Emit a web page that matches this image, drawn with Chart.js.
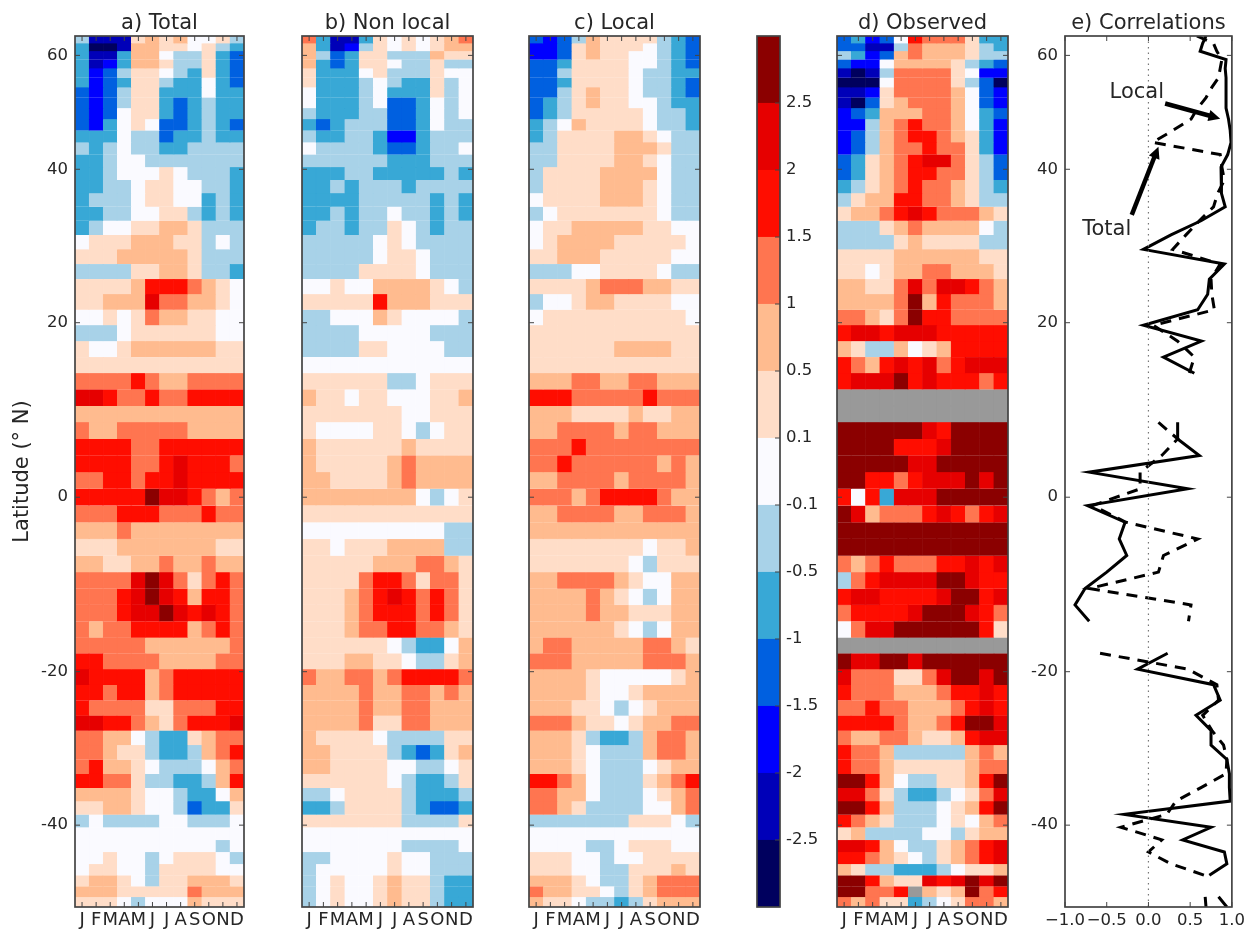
<!DOCTYPE html>
<html>
<head>
<meta charset="UTF-8">
<title>Correlations</title>
<style>
    body { margin: 0; background: #fff; }
    canvas { position: absolute; top: 0; }
</style>
<script src="https://cdn.jsdelivr.net/npm/chart.js"></script>
</head>
<body>
<canvas id="cTotal" style="left:0px" width="248" height="929"></canvas>
<canvas id="cNonLocal" style="left:290px" width="187" height="929"></canvas>
<canvas id="cLocal" style="left:517px" width="187" height="929"></canvas>
<canvas id="cBar" style="left:750px" width="80" height="929"></canvas>
<canvas id="cObserved" style="left:825px" width="187" height="929"></canvas>
<canvas id="cCorr" style="left:1020px" width="229" height="929"></canvas>

<script>
var months = ['J', 'F', 'M', 'A', 'M', 'J', 'J', 'A', 'S', 'O', 'N', 'D']
var latTicks = [60, 40, 20, 0, -20, -40]

// edges of the latitude rows, top to bottom (the correlations are plotted on these too)
var latEdges = [64.69, 62.81, 60.94, 59.06, 57.19, 55.31, 53.44, 51.56, 49.69, 47.81, 45.94, 44.06, 42.19, 40.31, 38.44, 36.56,
    34.69, 32.81, 30.94, 29.06, 27.19, 25.31, 23.44, 21.56, 19.69, 17.81, 15.94, 14.06, 12.19, 10.31, 8.44, 6.56, 4.69, 2.81, 0.94,
    -0.94, -2.81, -4.69, -6.56, -8.44, -10.31, -12.19, -14.06, -15.94, -17.81, -19.69, -21.56, -23.44, -25.31, -27.19, -29.06,
    -30.94, -32.81, -34.69, -36.56, -38.44, -40.31, -42.19, -44.06, -45.94, -47.81, -49.69, -51.56, -53.44]

// colour bar
var barLabels = ['-2.5', '-2', '-1.5', '-1', '-0.5', '-0.1', '0.1', '0.5', '1', '1.5', '2', '2.5']
var binColours = ['#00005e', '#0000b8', '#0000ff', '#0060e0', '#38a8d6', '#a8d2e8', '#fafaff', '#ffddc8', '#ffbb8f', '#ff7550', '#ff0d00', '#e60000', '#8b0000']
var missingColour = '#999999'

// cell values are colour bar bins: 0 is -0.1..0.1, 1 is 0.1..0.5, -1 is -0.5..-0.1 and so on up to +-6
var totalRows = [
    [-1, -5, -5, -5, 1, 2, 1, 2, 0, 0, 1, -1],
    [-2, -6, -6, -5, 2, 2, 1, 1, 0, 1, -1, -2],
    [-2, -5, -5, -2, 2, 2, 0, -1, -1, 1, -2, -3],
    [-2, -5, -4, -2, 2, 2, 1, -1, -1, 1, -2, -3],
    [-2, -4, -3, -1, 1, 1, 0, -1, -2, 1, -2, -3],
    [-2, -4, -3, -2, 1, 1, -1, -2, -2, 0, -2, -3],
    [-3, -4, -3, -1, 1, 1, -2, -2, -2, 0, -2, -2],
    [-3, -4, -3, -1, 1, 1, -2, -3, -2, -1, -2, -2],
    [-3, -4, -3, 0, 1, 1, -2, -3, -2, -1, -2, -2],
    [-3, -4, -2, 0, 1, 0, -3, -3, -2, -1, -2, -3],
    [-2, -2, -2, 0, -1, -1, -3, -2, -2, -1, -2, -2],
    [-1, -2, -1, 0, -1, -1, -2, -2, -1, -1, -1, -1],
    [-2, -2, -1, 0, 0, -1, -1, -1, -1, -1, -1, -1],
    [-2, -2, -1, 0, 0, 0, 1, 0, -1, -1, -1, -2],
    [-2, -2, -1, -1, 0, 1, 1, 0, 0, -1, -1, -2],
    [-2, -1, -1, -1, 0, 1, 1, 0, 0, -2, -1, -2],
    [-2, -2, -1, -1, 0, 0, 1, 1, -1, -2, -1, -2],
    [-2, -1, 0, 0, 1, 1, 2, 2, 1, -1, -1, -1],
    [0, 1, 1, 1, 2, 2, 2, 1, 1, -1, 0, -1],
    [1, 1, 1, 2, 2, 2, 2, 2, 1, -1, -1, -1],
    [-1, -1, -1, -1, 1, 1, 2, 2, 1, -1, -1, -2],
    [1, 1, 1, 1, 2, 4, 4, 4, 3, 2, 1, 0],
    [1, 1, 2, 2, 2, 5, 3, 3, 2, 2, 1, 0],
    [0, 0, 1, 0, 1, 3, 2, 2, 1, 1, 0, 0],
    [-1, -1, -1, 0, 1, 1, 1, 1, 1, 1, 0, 0],
    [1, 0, 0, 1, 2, 2, 2, 2, 2, 2, 1, 1],
    [1, 1, 1, 1, 1, 1, 1, 1, 1, 1, 1, 1],
    [3, 3, 3, 3, 4, 3, 2, 2, 3, 3, 3, 3],
    [5, 5, 4, 3, 3, 4, 3, 3, 4, 4, 4, 4],
    [2, 2, 2, 2, 2, 2, 2, 2, 2, 2, 2, 2],
    [3, 2, 2, 3, 3, 3, 3, 3, 2, 2, 2, 2],
    [4, 4, 4, 4, 3, 3, 4, 4, 4, 4, 4, 4],
    [4, 4, 4, 4, 3, 3, 4, 5, 4, 4, 4, 3],
    [3, 3, 4, 4, 3, 4, 4, 5, 4, 4, 4, 4],
    [4, 4, 4, 4, 4, 6, 5, 5, 4, 3, 2, 3],
    [3, 3, 3, 4, 4, 4, 3, 3, 3, 4, 3, 3],
    [2, 2, 2, 3, 2, 2, 2, 2, 2, 2, 2, 2],
    [1, 1, 1, 2, 2, 2, 2, 2, 2, 2, 1, 1],
    [2, 2, 1, 1, 2, 2, 3, 2, 2, 3, 2, 2],
    [3, 3, 3, 3, 5, 6, 5, 3, 1, 3, 4, 3],
    [3, 3, 3, 4, 5, 6, 5, 4, 2, 4, 4, 3],
    [3, 3, 3, 4, 5, 5, 6, 5, 4, 5, 4, 3],
    [3, 2, 3, 3, 4, 4, 4, 4, 2, 3, 4, 3],
    [3, 3, 3, 3, 3, 2, 2, 2, 2, 2, 2, 3],
    [4, 4, 3, 3, 3, 3, 2, 2, 2, 2, 3, 3],
    [5, 4, 4, 4, 4, 2, 3, 4, 4, 4, 4, 4],
    [4, 4, 3, 4, 4, 2, 3, 4, 4, 4, 4, 4],
    [4, 3, 3, 3, 3, 1, 1, 3, 3, 3, 4, 4],
    [5, 5, 4, 4, 3, 2, 1, 3, 4, 4, 4, 5],
    [3, 3, 2, 2, 0, -1, -2, -2, 1, 2, 3, 3],
    [3, 3, 2, 1, 1, -1, -2, -2, -1, 2, 3, 4],
    [3, 4, 2, 2, 1, 0, -1, -1, -1, 0, 2, 3],
    [4, 4, 3, 3, 1, -1, -1, -2, -2, -1, 2, 4],
    [2, 2, 2, 2, 1, 0, 0, -1, -2, -2, 0, 2],
    [1, 1, 2, 2, 1, 0, 0, -1, -3, -2, -2, 1],
    [-1, 0, -1, -1, -1, -1, 0, 0, -1, -1, -1, 0],
    [0, 0, 0, 0, 0, 0, 0, 0, 0, 0, 0, 0],
    [0, 0, 0, 0, 0, 0, 0, 0, 0, 0, -1, 0],
    [0, 0, 1, 0, 0, -1, 0, 1, 1, 1, 0, -1],
    [0, 1, 1, 0, 0, -1, 1, 1, 1, 1, 0, 0],
    [1, 2, 2, 1, 0, -1, 1, 1, 2, 2, 2, 1],
    [2, 2, 2, 1, 1, 1, 1, 1, 3, 2, 2, 2],
    [1, 1, 1, 0, -1, 0, 0, 0, 2, 1, 1, 1]
]

var nonLocalRows = [
    [3, -2, -5, -5, -2, 1, 0, 1, 0, 1, 2, 3],
    [2, -2, -5, -4, -1, 1, 0, 1, 0, 1, 2, 2],
    [2, -1, -3, -2, 1, 1, -1, -1, -1, 2, 1, 1],
    [2, -2, -3, -2, 1, 1, 0, -1, -1, 1, -1, -1],
    [1, -2, -2, -2, 0, 1, -1, -1, -1, 1, 0, 0],
    [1, -2, -2, -2, -1, 0, -1, -2, -2, 1, -1, 0],
    [0, -2, -2, -2, -1, 0, -2, -2, -2, 1, -1, 0],
    [0, -2, -2, -2, -1, 0, -3, -3, -2, 0, -1, 0],
    [-1, -2, -2, -2, -1, -1, -3, -3, -2, 0, -1, 0],
    [-2, -3, -2, -1, -1, -1, -3, -3, -2, 0, -1, -1],
    [-1, -2, -2, -1, -1, -2, -4, -4, -2, -1, -1, -1],
    [0, -1, -1, -1, -1, -2, -3, -3, -2, -1, -1, 0],
    [-1, -1, -1, -1, -1, -1, -2, -2, -2, -1, -1, -1],
    [-2, -2, -2, -1, -1, -2, -2, -2, -2, -2, -1, -2],
    [-2, -2, -1, -2, -1, -1, -1, -2, -1, -1, -1, -1],
    [-2, -2, -2, -2, -1, -1, -1, -1, -1, -2, -1, -2],
    [-2, -2, -1, -2, -1, -1, 0, -1, -1, -2, -1, -2],
    [-2, -1, -1, -2, -1, -1, 1, 0, -1, -2, -1, -1],
    [-1, -1, -1, -1, -1, 0, 1, 0, -1, -1, -1, -1],
    [-1, -1, -1, -1, -1, 0, 1, 1, 0, -1, -1, -1],
    [-1, -1, -1, -1, 1, 1, 1, 1, 0, -1, -1, -1],
    [0, 0, 1, 0, 0, 2, 2, 2, 2, 1, 0, -1],
    [1, 1, 1, 1, 1, 4, 2, 2, 2, 1, 1, 1],
    [-1, -1, 0, 0, 0, 2, 1, 0, 0, 0, 0, -1],
    [-1, -1, -1, -1, 0, 0, 0, 0, 0, -1, -1, -1],
    [-1, -1, -1, -1, 1, 1, 0, 0, 0, 0, -1, -1],
    [0, 0, 0, 0, 0, 0, 0, 0, 0, 0, 0, 0],
    [1, 1, 1, 1, 1, 1, -1, -1, 0, 1, 1, 1],
    [2, 1, 1, 0, 1, 1, 0, 0, 0, 1, 1, 2],
    [1, 1, 1, 1, 1, 1, 1, 0, 0, 1, 1, 1],
    [1, 0, 0, 0, 0, 1, 1, 0, -1, 0, 1, 1],
    [2, 1, 1, 1, 1, 1, 1, 2, 1, 1, 1, 1],
    [2, 1, 1, 1, 1, 1, 2, 3, 2, 2, 2, 2],
    [2, 2, 1, 1, 1, 1, 2, 3, 2, 2, 2, 2],
    [2, 2, 2, 2, 2, 2, 2, 2, 0, -1, 0, 1],
    [1, 1, 1, 1, 1, 1, 1, 1, 1, 1, 1, 1],
    [0, 0, 0, 0, 0, 0, 0, 0, 0, 0, -1, -1],
    [1, 1, 0, 1, 1, 1, 2, 2, 2, 2, -1, -1],
    [1, 1, 1, 1, 1, 2, 2, 2, 3, 3, 2, 1],
    [1, 1, 1, 1, 3, 4, 4, 3, 1, 3, 3, 1],
    [1, 1, 1, 2, 3, 4, 5, 4, 3, 4, 3, 1],
    [1, 1, 1, 2, 3, 4, 4, 4, 3, 4, 3, 1],
    [1, 1, 1, 2, 3, 3, 4, 4, 3, 3, 2, 1],
    [1, 1, 1, 1, 1, 1, 0, -1, -2, -2, 0, 2],
    [1, 1, 1, 2, 2, 1, 1, 0, -1, -1, 1, 2],
    [3, 2, 2, 3, 3, 2, 3, 4, 4, 4, 4, 3],
    [2, 2, 2, 2, 3, 2, 2, 3, 3, 2, 3, 2],
    [2, 2, 2, 2, 3, 2, 2, 3, 3, 2, 2, 2],
    [2, 2, 2, 2, 3, 1, 1, 3, 3, 2, 2, 2],
    [2, 1, 1, 1, 1, 0, -1, -1, -1, -1, 1, 1],
    [2, 2, 1, 1, 1, 1, -1, -2, -3, -2, 1, 2],
    [2, 2, 1, 1, 1, 1, 0, 0, -1, -1, 0, 1],
    [1, 1, 1, 1, 1, 1, 0, -1, -2, -2, -1, 1],
    [-1, -1, 0, 1, 1, 1, 1, -1, -2, -2, -2, -1],
    [-2, -2, -1, 1, 1, 1, 1, -1, -2, -3, -3, -2],
    [1, 1, 1, 1, 1, 1, 1, -1, -1, -1, -1, 1],
    [0, 0, 0, 0, 0, 0, 0, 0, 0, 0, 0, 0],
    [0, 0, 0, 0, 0, 0, 0, -1, -1, -1, -1, 0],
    [-1, -1, 0, 0, 0, 0, 1, 0, 0, -1, -1, -1],
    [-1, 0, 0, 0, 0, 0, 1, 0, 0, -1, -1, -1],
    [-1, 0, 1, 0, 0, 1, 2, 1, 1, -1, -2, -2],
    [-1, 0, 1, 0, 0, 1, 2, 1, 1, -1, -2, -2],
    [-1, 0, 1, 0, 0, 1, 2, 1, 1, -1, -2, -2]
]

var localRows = [
    [-3, -4, -3, -1, 2, 1, 1, 1, 1, -1, -2, -3],
    [-4, -4, -3, 1, 2, 1, 1, 1, 0, -1, -2, -3],
    [-4, -4, -3, 1, 2, 1, 1, 0, 0, -1, -2, -3],
    [-3, -3, -2, 1, 1, 1, 1, 0, 0, -1, -2, -3],
    [-3, -3, -1, 1, 1, 1, 1, 0, -1, -1, -2, -2],
    [-3, -3, -2, 1, 1, 1, 1, 0, -1, -1, -2, -3],
    [-3, -3, -1, 1, 2, 1, 1, 0, -1, -1, -2, -3],
    [-3, -2, -1, 1, 2, 1, 1, 0, 0, -1, -2, -2],
    [-3, -2, -1, 1, 1, 1, 1, 1, 0, -1, -1, -2],
    [-2, -1, 0, 2, 1, 1, 1, 1, 0, -1, -1, -2],
    [-2, -1, 1, 1, 1, 1, 2, 2, 1, 0, -1, -1],
    [-1, -1, 1, 1, 1, 1, 2, 2, 2, 1, -1, -1],
    [-1, -1, 1, 1, 1, 1, 2, 2, 1, 0, -1, -1],
    [-1, 1, 1, 1, 1, 2, 2, 2, 2, 0, -1, -1],
    [-1, 1, 1, 1, 1, 2, 2, 2, 1, 0, -1, -1],
    [0, 1, 1, 1, 1, 2, 2, 2, 1, 0, -1, -1],
    [-1, 0, 1, 1, 1, 1, 1, 1, 1, 0, -1, -1],
    [0, 1, 1, 2, 2, 2, 2, 2, 1, 1, 0, 0],
    [0, 1, 2, 2, 2, 2, 1, 1, 1, 1, 1, 0],
    [1, 1, 2, 2, 2, 1, 1, 1, 1, 1, 0, 0],
    [-1, -1, -1, 0, 0, 1, 1, 1, 1, 0, -1, -1],
    [1, 1, 1, 1, 2, 3, 3, 3, 2, 2, 1, 1],
    [-1, 0, 0, 1, 2, 2, 1, 1, 1, 1, 0, 0],
    [0, 1, 1, 1, 1, 1, 1, 1, 1, 1, 1, 0],
    [1, 1, 1, 1, 1, 1, 1, 1, 1, 1, 1, 1],
    [1, 1, 1, 1, 1, 1, 2, 2, 2, 2, 1, 1],
    [1, 1, 1, 1, 1, 1, 1, 1, 1, 1, 1, 1],
    [2, 2, 2, 3, 3, 2, 2, 3, 3, 2, 2, 2],
    [4, 4, 4, 3, 3, 3, 3, 3, 4, 3, 3, 3],
    [2, 2, 2, 1, 1, 1, 1, 2, 1, 1, 2, 2],
    [2, 2, 3, 3, 3, 3, 2, 3, 3, 2, 2, 2],
    [3, 3, 3, 4, 3, 3, 3, 3, 3, 3, 3, 3],
    [3, 3, 4, 3, 3, 3, 3, 3, 3, 2, 3, 2],
    [2, 2, 3, 3, 3, 3, 2, 3, 3, 3, 3, 2],
    [3, 3, 3, 2, 3, 4, 4, 4, 4, 3, 2, 2],
    [2, 2, 3, 3, 3, 3, 2, 2, 3, 3, 3, 2],
    [2, 2, 2, 2, 2, 2, 2, 2, 2, 2, 2, 2],
    [1, 1, 1, 1, 1, 1, 1, 1, 0, 1, 1, 2],
    [1, 1, 1, 1, 1, 1, 1, 0, -1, 1, 1, 1],
    [2, 2, 3, 3, 3, 3, 2, 1, 0, 0, 2, 2],
    [2, 2, 2, 2, 3, 2, 1, 0, -1, 0, 2, 2],
    [2, 2, 2, 2, 3, 2, 2, 1, 1, 1, 2, 2],
    [2, 2, 2, 2, 2, 2, 1, 0, -1, 0, 2, 2],
    [2, 3, 3, 2, 2, 2, 2, 2, 3, 3, 2, 1],
    [3, 3, 3, 2, 2, 2, 2, 2, 3, 3, 3, 2],
    [2, 2, 2, 2, 1, 0, 0, 0, 0, 0, 1, 2],
    [2, 2, 2, 2, 1, 0, 0, 1, 2, 2, 2, 2],
    [2, 2, 2, 1, 1, 0, -1, 0, 1, 2, 2, 2],
    [3, 3, 3, 2, 1, 1, 0, 1, 2, 2, 3, 3],
    [2, 2, 2, 1, -1, -2, -2, -1, 2, 3, 3, 2],
    [2, 2, 2, 1, 0, -1, -1, -1, 2, 3, 3, 2],
    [2, 2, 2, 1, 0, -1, -1, -1, 0, 1, 2, 2],
    [4, 4, 3, 2, 0, -1, -1, -1, 1, 2, 3, 4],
    [3, 3, 2, 2, 0, -1, -1, -1, 0, 1, 2, 3],
    [3, 3, 2, 1, -1, -1, -1, -1, 0, 0, 2, 3],
    [-1, -1, -1, -1, -1, -1, -1, 1, 1, 1, 0, -1],
    [0, 0, 0, 0, 0, 0, 0, 0, 0, 0, 0, 0],
    [0, 0, 0, 0, -1, -1, 0, 1, 1, 1, 0, 0],
    [1, 1, 1, 0, 0, -1, 0, 0, 1, 1, 1, 1],
    [1, 1, 1, 0, 0, -1, -1, 1, 1, 1, 2, 1],
    [2, 2, 2, 1, 0, -1, -1, 1, 2, 3, 3, 3],
    [3, 2, 2, 1, 1, 0, -1, 1, 2, 3, 3, 3],
    [2, 1, 1, 0, -1, -1, -2, -1, 1, 2, 2, 2]
]

var n = null
var observedRows = [
    [-3, -2, -4, -3, 0, 4, 3, 3, 3, 1, -2, -2],
    [-3, -3, -5, -5, -1, 3, 2, 2, 2, 1, -1, -2],
    [-1, -2, -4, -3, 2, 3, 2, 2, 2, 1, -1, -1],
    [-3, -4, -4, 0, 2, 2, 2, 2, 1, -1, -2, -3],
    [-5, -6, -5, -1, 3, 3, 3, 3, 1, 0, -4, -4],
    [-6, -6, -6, 0, 3, 3, 3, 3, 1, -1, -3, -6],
    [-5, -5, -4, 1, 3, 3, 3, 3, 2, 0, -3, -4],
    [-5, -6, -3, 1, 2, 3, 3, 3, 2, 0, -3, -4],
    [-4, -3, -2, 2, 2, 2, 3, 3, 2, 0, -2, -3],
    [-4, -4, -1, 2, 3, 4, 3, 3, 2, 0, -2, -4],
    [-4, -3, -1, 2, 3, 4, 4, 3, 2, 1, -2, -4],
    [-4, -3, -1, 2, 3, 3, 4, 3, 3, 1, -2, -4],
    [-3, -2, 1, 2, 3, 4, 5, 5, 3, 1, -1, -3],
    [-3, -2, 1, 2, 3, 4, 4, 3, 3, 1, -1, -3],
    [-2, -1, 1, 2, 3, 4, 3, 3, 2, 1, -1, -2],
    [-1, 1, 2, 2, 4, 4, 3, 3, 2, 1, -1, -1],
    [1, 2, 2, 3, 4, 5, 4, 3, 3, 3, 2, 1],
    [-1, -1, -1, 1, 2, 3, 2, 2, 2, 2, 0, -1],
    [-1, -1, -1, -1, 1, 2, 1, 1, 1, 1, -1, -1],
    [1, 1, 1, 1, 2, 2, 2, 2, 2, 2, 1, 1],
    [1, 1, 0, 1, 2, 2, 3, 3, 2, 2, 2, 1],
    [2, 2, 1, 1, 3, 5, 3, 5, 5, 4, 3, 2],
    [2, 2, 2, 2, 3, 6, 2, 4, 3, 3, 3, 2],
    [3, 3, 2, 1, 3, 6, 4, 4, 3, 3, 3, 3],
    [4, 5, 5, 4, 5, 5, 5, 4, 4, 4, 4, 4],
    [2, 1, -1, -1, 2, 0, 1, 2, 4, 4, 4, 4],
    [4, 3, 2, 4, 5, 4, 5, 3, 4, 5, 5, 5],
    [4, 5, 5, 5, 6, 4, 5, 4, 4, 4, 3, 4],
    [n, n, n, n, n, n, n, n, n, n, n, n],
    [n, n, n, n, n, n, n, n, n, n, n, n],
    [6, 6, 6, 6, 6, 6, 5, 4, 6, 6, 6, 6],
    [6, 6, 6, 6, 4, 4, 4, 5, 6, 6, 6, 6],
    [6, 6, 6, 6, 6, 5, 5, 6, 6, 6, 6, 6],
    [6, 6, 4, 4, 3, 4, 5, 5, 5, 6, 5, 6],
    [4, 0, 4, -2, 5, 5, 5, 6, 6, 6, 6, 6],
    [6, 5, 2, 3, 3, 3, 4, 5, 4, 3, 4, 5],
    [6, 6, 6, 6, 6, 6, 6, 6, 6, 6, 6, 6],
    [6, 6, 6, 6, 6, 6, 6, 6, 6, 6, 6, 6],
    [3, 2, 3, 4, 3, 3, 3, 4, 4, 5, 4, 5],
    [-1, 3, 4, 5, 5, 5, 5, 6, 6, 5, 4, 4],
    [4, 5, 5, 4, 4, 4, 4, 5, 6, 6, 4, 5],
    [3, 4, 4, 4, 4, 5, 6, 6, 6, 5, 4, 3],
    [0, 3, 5, 5, 6, 6, 6, 6, 6, 6, 4, 1],
    [n, n, n, n, n, n, n, n, n, n, n, n],
    [6, 5, 5, 6, 6, 5, 6, 6, 6, 6, 6, 6],
    [5, 3, 3, 3, 1, 1, 3, 5, 6, 6, 5, 6],
    [4, 3, 3, 3, 2, 2, 2, 3, 4, 4, 5, 4],
    [3, 3, 4, 3, 3, 2, 2, 2, 3, 4, 5, 4],
    [4, 4, 4, 4, 3, 2, 2, 3, 4, 6, 6, 5],
    [3, 2, 2, 3, 3, 2, 1, 1, 2, 4, 5, 5],
    [4, 3, 3, 2, -1, -1, -1, -1, -1, 2, 3, 2],
    [4, 3, 3, 2, 1, 1, 1, 1, 1, 2, 3, 3],
    [6, 6, 4, 2, 0, -1, -1, 1, 1, 2, 4, 6],
    [5, 5, 3, 1, -1, -2, -2, -1, 0, 1, 3, 5],
    [6, 6, 4, 2, -1, -1, -1, 0, 1, 2, 4, 6],
    [4, 3, 2, 1, -1, -1, -1, 0, 1, 0, 2, 3],
    [1, 2, -1, -1, -1, -1, 0, 0, -1, 1, 2, 2],
    [5, 5, 4, 2, 0, -1, -1, 1, 2, 3, 4, 5],
    [4, 4, 3, 2, 1, 0, -1, 1, 2, 3, 4, 5],
    [2, 1, -1, -1, -2, -2, -2, -1, 0, 1, 1, 2],
    [6, 6, 4, 2, 1, 1, 5, 4, 5, 6, 5, 6],
    [6, 6, 3, 3, 4, n, 2, 1, 2, 6, 3, 4],
    [3, 2, 3, 1, 1, -2, -1, 0, 1, 3, 3, 2]
]

// one value per entry of latEdges
var corrLocal = [0.69, 0.65, 0.62, 0.93, 0.92, 0.93, 0.93, 0.93, 0.93, 0.96, 0.98, 0.99, 0.95, 0.87, 0.87, 0.88,
    0.92, 0.63, 0.27, -0.06, 0.91, 0.73, 0.71, 0.59, -0.06, 0.635, 0.18, 0.55, n, n,
    0.35, 0.35, 0.61, -0.71, 0.47, -0.73, -0.28, -0.35, -0.26, -0.5, -0.76, -0.88, -0.71, n,
    0.23, -0.13, 0.78, 0.86, 0.57, 0.75, 0.75, 0.94, 0.97, 0.97, 0.98, -0.29, 0.75, 0.41, 0.91, 0.94, 0.73, n, 0.84, 0.94]
var corrTotal = [0.58, 0.78, 0.82, 0.88, 0.86, 0.84, 0.76, 0.69, 0.59, 0.51, 0.29, 0.05, 0.86, 0.88, 0.91, 0.83,
    0.78, 0.61, 0.45, 0.29, 0.86, 0.75, 0.76, 0.79, 0.06, 0.35, 0.55, 0.49, n, n,
    0.12, 0.35, 0.16, -0.1, -0.1, -0.67, -0.27, 0.59, 0.18, 0.12, -0.71, 0.51, 0.48, n,
    -0.58, 0.47, 0.82, 0.84, 0.65, 0.76, 0.9, 0.94, 0.93, 0.63, 0.33, 0.22, -0.33, 0.16, 0, 0.27, 0.67, n, 0.68, 0.69]

var inkColour = '#262626'
var frameColour = '#444444'
Chart.defaults.font.family = 'DejaVu Sans'
Chart.defaults.font.size = 16.5
Chart.defaults.color = inkColour
Chart.defaults.animation = false

function sinLat(lat) {
    return Math.sin(lat * Math.PI / 180)
}

// frame and inward ticks, like the old matplotlib look
var framePlugin = {
    id: 'frame',
    afterDraw: function (chart, args, opts) {
        var c = chart.ctx, a = chart.chartArea
        c.save()
        c.strokeStyle = frameColour
        c.lineWidth = 1
        if (opts.xTicks) {
            chart.scales.x.ticks.forEach(function (t, i) {
                var px = chart.scales.x.getPixelForTick(i)
                c.beginPath()
                c.moveTo(px, a.top); c.lineTo(px, a.top + 5)
                c.moveTo(px, a.bottom); c.lineTo(px, a.bottom - 5)
                c.stroke()
            })
        }
        if (opts.yTicks) {
            chart.scales.y.ticks.forEach(function (t, i) {
                var py = chart.scales.y.getPixelForTick(i)
                c.beginPath()
                if (opts.yTicks != 'right') {
                    c.moveTo(a.left, py); c.lineTo(a.left + 5, py)
                }
                c.moveTo(a.right, py); c.lineTo(a.right - 5, py)
                c.stroke()
            })
        }
        c.lineWidth = 1.7
        c.strokeRect(a.left, a.top, a.right - a.left, a.bottom - a.top)
        c.restore()
    }
}

// the "Local" and "Total" notes of panel e
var notes = [
    { text: 'Local', x: -0.14, lat: 52.45, fromX: 0.2, fromLat: 50.5, toX: 0.86, toLat: 47.9 },
    { text: 'Total', x: -0.5, lat: 31.65, fromX: -0.2, fromLat: 33.6, toX: 0.12, toLat: 43.4 }
]

var notesPlugin = {
    id: 'notes',
    afterDatasetsDraw: function (chart) {
        var c = chart.ctx, sx = chart.scales.x, sy = chart.scales.y
        c.save()
        notes.forEach(function (note) {
            c.fillStyle = inkColour
            c.font = '21px "DejaVu Sans"'
            c.textAlign = 'center'
            c.textBaseline = 'middle'
            c.fillText(note.text, sx.getPixelForValue(note.x), sy.getPixelForValue(sinLat(note.lat)))

            var x0 = sx.getPixelForValue(note.fromX), y0 = sy.getPixelForValue(sinLat(note.fromLat))
            var x1 = sx.getPixelForValue(note.toX), y1 = sy.getPixelForValue(sinLat(note.toLat))
            var ang = Math.atan2(y1 - y0, x1 - x0)
            c.fillStyle = '#000'
            c.strokeStyle = '#000'
            c.lineWidth = 4.5
            c.beginPath()
            c.moveTo(x0, y0)
            c.lineTo(x1 - 9 * Math.cos(ang), y1 - 9 * Math.sin(ang))
            c.stroke()
            c.beginPath()
            c.moveTo(x1, y1)
            c.lineTo(x1 - 13 * Math.cos(ang - 0.45), y1 - 13 * Math.sin(ang - 0.45))
            c.lineTo(x1 - 13 * Math.cos(ang + 0.45), y1 - 13 * Math.sin(ang + 0.45))
            c.closePath()
            c.fill()
        })
        c.restore()
    }
}

function latAxis(axisWidth, showLabels, title) {
    return {
        min: sinLat(latEdges[latEdges.length - 1]),
        max: sinLat(latEdges[0]),
        afterBuildTicks: function (scale) {
            scale.ticks = latTicks.map(function (l) { return { value: sinLat(l) } })
        },
        afterFit: function (scale) { scale.width = axisWidth },
        grid: { display: false, drawTicks: false },
        border: { display: false },
        title: { display: !!title, text: title, font: { size: 21 }, color: inkColour, padding: { top: 10, bottom: 0 } },
        ticks: {
            display: showLabels,
            padding: 7,
            autoSkip: false,
            callback: function (v, i) { return latTicks[i] }
        }
    }
}

function panelTitle(text) {
    return {
        display: true,
        text: text,
        fullSize: false,
        color: inkColour,
        font: { size: 21, weight: 'normal' },
        padding: { top: 10.5, bottom: 0.3 }
    }
}

// each latitude row is one dataset of floating bars, one bar per month
function heatmap(id, title, rows, axisWidth, showLabels, yTitle) {
    var datasets = rows.map(function (row, r) {
        var lo = sinLat(latEdges[r + 1]), hi = sinLat(latEdges[r])
        var colours = row.map(function (v) { return v === null ? missingColour : binColours[v + 6] })
        return {
            data: row.map(function () { return [lo, hi] }),
            backgroundColor: colours,
            borderColor: colours,
            borderWidth: 0.4,
            grouped: false,
            barPercentage: 1,
            categoryPercentage: 1
        }
    })
    new Chart(document.getElementById(id), {
        type: 'bar',
        data: { labels: months, datasets: datasets },
        plugins: [framePlugin],
        options: {
            responsive: false,
            layout: { padding: { right: 4 } },
            plugins: {
                legend: { display: false },
                tooltip: { enabled: false },
                title: panelTitle(title),
                frame: { xTicks: true, yTicks: true }
            },
            scales: {
                x: {
                    afterFit: function (scale) { scale.height = 22 },
                    grid: { display: false, drawTicks: false },
                    border: { display: false },
                    ticks: { padding: 3, font: { size: 18 }, autoSkip: false, maxRotation: 0, minRotation: 0 }
                },
                y: latAxis(axisWidth, showLabels, yTitle)
            }
        }
    })
}

heatmap('cTotal', 'a) Total', totalRows, 75, true, 'Latitude (° N)')
heatmap('cNonLocal', 'b) Non local', nonLocalRows, 12, false)
heatmap('cLocal', 'c) Local', localRows, 12, false)
heatmap('cObserved', 'd) Observed', observedRows, 12, false)

// colour bar: equal steps per bin, labelled with the bin limits
new Chart(document.getElementById('cBar'), {
    type: 'bar',
    data: {
        labels: [''],
        datasets: binColours.map(function (col, i) {
            return { data: [[i, i + 1]], backgroundColor: col, borderColor: col, borderWidth: 0.4, grouped: false, barPercentage: 1, categoryPercentage: 1 }
        })
    },
    plugins: [framePlugin],
    options: {
        responsive: false,
        layout: { padding: { left: 7, top: 36, bottom: 22 } },
        plugins: {
            legend: { display: false },
            tooltip: { enabled: false },
            frame: { yTicks: 'right' }
        },
        scales: {
            x: { display: false },
            y: {
                position: 'right',
                min: 0,
                max: binColours.length,
                afterBuildTicks: function (scale) {
                    scale.ticks = barLabels.map(function (l, i) { return { value: i + 1 } })
                },
                afterFit: function (scale) { scale.width = 50 },
                grid: { display: false, drawTicks: false },
                border: { display: false },
                ticks: {
                    padding: 6,
                    autoSkip: false,
                    callback: function (v, i) { return barLabels[i] }
                }
            }
        }
    }
})

function corrPoints(values) {
    return values.map(function (v, i) { return { x: v, y: sinLat(latEdges[i]) } })
}

new Chart(document.getElementById('cCorr'), {
    type: 'scatter',
    data: {
        datasets: [
            {
                label: 'Zero',
                data: [{ x: 0, y: sinLat(latEdges[0]) }, { x: 0, y: sinLat(latEdges[latEdges.length - 1]) }],
                showLine: true, borderColor: '#777', borderWidth: 1.2, borderDash: [1.5, 4], pointRadius: 0
            },
            {
                label: 'Total',
                data: corrPoints(corrTotal),
                showLine: true, spanGaps: false, borderColor: '#000', borderWidth: 3, borderDash: [11, 8], pointRadius: 0
            },
            {
                label: 'Local',
                data: corrPoints(corrLocal),
                showLine: true, spanGaps: false, borderColor: '#000', borderWidth: 3, pointRadius: 0
            }
        ]
    },
    plugins: [framePlugin, notesPlugin],
    options: {
        responsive: false,
        layout: { padding: { right: 14 } },
        plugins: {
            legend: { display: false },
            tooltip: { enabled: false },
            title: panelTitle('e) Correlations'),
            frame: { xTicks: true, yTicks: true }
        },
        scales: {
            x: {
                min: -1,
                max: 1,
                afterFit: function (scale) { scale.height = 22 },
                grid: { display: false, drawTicks: false },
                border: { display: false },
                ticks: {
                    stepSize: 0.5,
                    padding: 4,
                    autoSkip: false,
                    maxRotation: 0,
                    callback: function (v) { return v.toFixed(1).replace('-', '\u2212') }
                }
            },
            y: latAxis(45, true)
        }
    }
})
</script>
</body>
</html>
